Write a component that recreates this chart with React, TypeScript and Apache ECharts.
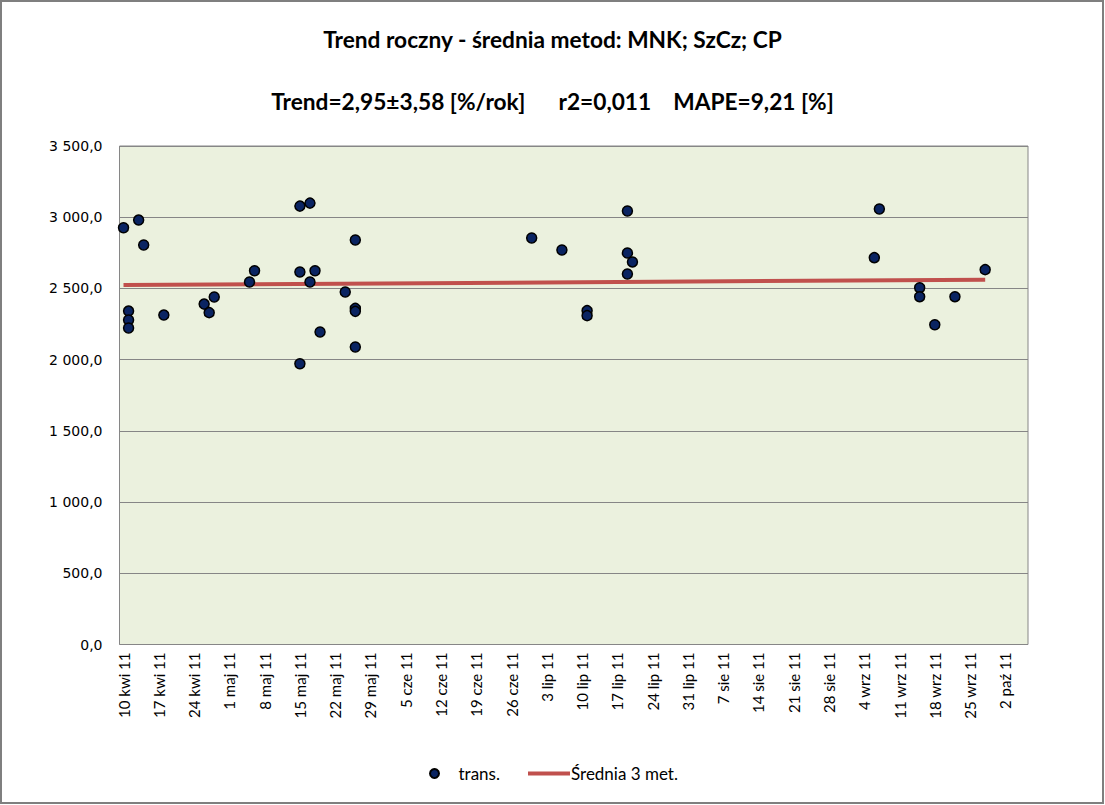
import React, { useEffect, useRef } from "react";
import * as echarts from "echarts";

const titleLine1 = "Trend roczny - średnia metod: MNK; SzCz; CP";
const titleLine2 = "Trend=2,95±3,58 [%/rok]      r2=0,011    MAPE=9,21 [%]";

// x = days since 10 kwi 2011
const tickDays = [0, 7, 14, 21, 28, 35, 42, 49, 56, 63, 70, 77, 84, 91, 98, 105, 112, 119, 126, 133, 140, 147, 154, 161, 168, 175];
const tickLabels = [
  "10 kwi 11", "17 kwi 11", "24 kwi 11", "1 maj 11", "8 maj 11", "15 maj 11", "22 maj 11", "29 maj 11",
  "5 cze 11", "12 cze 11", "19 cze 11", "26 cze 11", "3 lip 11", "10 lip 11", "17 lip 11", "24 lip 11",
  "31 lip 11", "7 sie 11", "14 sie 11", "21 sie 11", "28 sie 11", "4 wrz 11", "11 wrz 11", "18 wrz 11",
  "25 wrz 11", "2 paź 11",
];

const transDays = [
  0, 3, 4, 1, 1, 1, 8, 16, 17, 18, 25, 26,
  35, 37, 35, 38, 37, 35, 39, 44, 46, 46, 46, 46,
  81, 87, 92, 92, 100, 100, 101, 100,
  149, 150, 158, 158, 161, 165, 171,
];
const transValues = [
  2926, 2980, 2805, 2341, 2278, 2222, 2313, 2390, 2330, 2440, 2545, 2624,
  3078, 3099, 2615, 2624, 2545, 1971, 2194, 2475, 2840, 2360, 2339, 2089,
  2854, 2770, 2344, 2309, 3044, 2749, 2686, 2601,
  2716, 3058, 2505, 2442, 2245, 2442, 2632,
];

const avgDays = [0, 171];
const avgValues = [2524, 2561];

const yTicks = [0, 500, 1000, 1500, 2000, 2500, 3000, 3500];

function fmtY(v: number): string {
  const s = v.toFixed(1).replace(".", ",");
  const [i, d] = s.split(",");
  const withSep = i.replace(/\B(?=(\d{3})+(?!\d))/g, " ");
  return withSep + "," + d;
}

export default function App() {
  const ref = useRef<HTMLDivElement>(null);
  useEffect(() => {
    document.body.style.margin = "0";
    const chart = echarts.init(ref.current!, null, { renderer: "svg" });
    const font = "Lato, 'Noto Sans', sans-serif";
    chart.setOption({
      animation: false,
      backgroundColor: "#ffffff",
      textStyle: { fontFamily: font },
      title: [
        {
          text: titleLine1,
          left: "center",
          top: 23,
          textStyle: { fontSize: 22.7, fontWeight: "bold", color: "#000", fontFamily: font },
        },
        {
          text: titleLine2,
          left: "center",
          top: 85,
          textStyle: { fontSize: 22.7, fontWeight: "bold", color: "#000", fontFamily: font },
        },
      ],
      graphic: [
        {
          type: "rect",
          shape: { x: 1, y: 1, width: 1102, height: 802 },
          style: { fill: "none", stroke: "#7f7f7f", lineWidth: 2 },
          silent: true,
        },
      ],
      legend: [
        {
          data: [{ name: "trans.", icon: "circle" }],
          left: 424,
          top: 760,
          itemWidth: 38,
          itemHeight: 9,
          textStyle: { fontSize: 17, color: "#000", fontFamily: font },
        },
        {
          data: [{ name: "Średnia 3 met.", icon: "rect" }],
          left: 523,
          top: 760,
          itemWidth: 42,
          itemHeight: 4,
          itemStyle: { color: "#C0504D", borderWidth: 0 },
          textStyle: { fontSize: 17, color: "#000", fontFamily: font, padding: [0, 0, 0, -4] },
        },
      ],
      grid: {
        left: 119.5,
        top: 146,
        width: 908.5,
        height: 498.5,
        show: true,
        backgroundColor: "#EBF1DE",
        borderColor: "#868686",
        borderWidth: 1,
      },
      xAxis: {
        type: "value",
        min: -0.8,
        max: 179.5,
        axisLine: { show: false },
        axisTick: { show: false },
        splitLine: { show: false },
        axisLabel: {
          customValues: tickDays,
          rotate: 90,
          margin: 8,
          fontSize: 15,
          color: "#000",
          fontFamily: font,
          formatter: (v: number) => {
            const idx = tickDays.indexOf(Math.round(v));
            return idx >= 0 ? tickLabels[idx] : "";
          },
        },
      },
      yAxis: {
        type: "value",
        min: 0,
        max: 3500,
        interval: 500,
        axisLine: { show: false },
        axisTick: { show: false },
        splitLine: { show: true, lineStyle: { color: "#868686", width: 1 } },
        axisLabel: {
          margin: 17,
          fontSize: 14,
          color: "#000",
          fontFamily: "'DejaVu Sans', sans-serif",
          formatter: (v: number) => (yTicks.includes(v) ? fmtY(v) : ""),
        },
      },
      series: [
        {
          name: "trans.",
          type: "scatter",
          data: transDays.map((d, i) => [d, transValues[i]]),
          symbol: "circle",
          symbolSize: 10,
          itemStyle: { color: "#0A2462", borderColor: "#000000", borderWidth: 1.5, opacity: 1 },
          z: 3,
        },
        {
          name: "Średnia 3 met.",
          type: "line",
          data: avgDays.map((d, i) => [d, avgValues[i]]),
          symbol: "none",
          lineStyle: { color: "#C0504D", width: 4 },
          itemStyle: { color: "#C0504D" },
          z: 2,
        },
      ],
    });
    return () => chart.dispose();
  }, []);
  return (
    <div
      ref={ref}
      style={{ position: "absolute", left: 0, top: 0, width: 1105, height: 805 }}
    />
  );
}
